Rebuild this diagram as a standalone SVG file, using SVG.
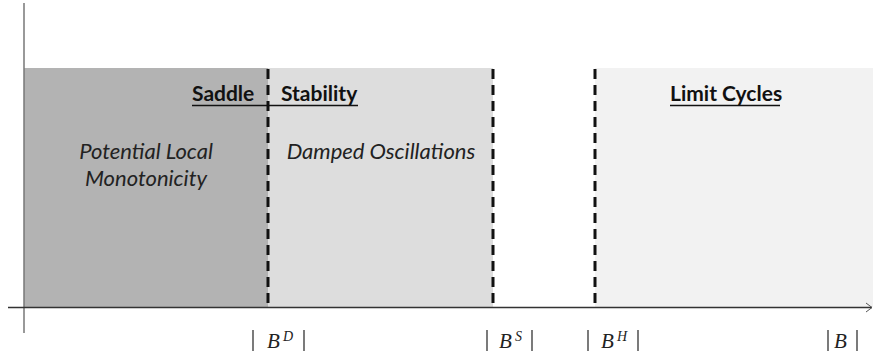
<svg xmlns="http://www.w3.org/2000/svg" width="873" height="353" viewBox="0 0 873 353">
<style>
.hd{font-family:Lato,"Liberation Sans",sans-serif;font-weight:bold;font-size:21px;fill:#111}
.it{font-family:Lato,"Liberation Sans",sans-serif;font-style:italic;font-size:22px;fill:#222}
.mi{font-family:"Liberation Serif",serif;font-style:italic;font-size:21px;fill:#222}
.ms{font-family:"Liberation Serif",serif;font-style:italic;font-size:14px;fill:#222}
.bar{stroke:#333;stroke-width:1.3}
.dash{stroke:#111;stroke-width:3;stroke-dasharray:10 6;fill:none}
.ul{stroke:#111;stroke-width:1.6}
</style>
<g id="regions">
<rect id="saddle" x="24" y="68" width="244" height="239" fill="#b3b3b3"/>
<rect id="stability" x="268" y="68" width="225" height="239" fill="#dddddd"/>
<rect id="limit" x="595" y="68" width="278" height="239" fill="#f2f2f2"/>
</g>
<g id="axes">
<line x1="24" y1="3" x2="24" y2="333" stroke="#777" stroke-width="1.5"/>
<line x1="8" y1="307.5" x2="872" y2="307.5" stroke="#333" stroke-width="1.5"/>
<polyline points="866,303 872,307.5 866,312" fill="none" stroke="#555" stroke-width="1"/>
</g>
<g id="boundaries">
<line class="dash" x1="268" y1="69" x2="268" y2="307"/>
<line class="dash" x1="493" y1="69" x2="493" y2="307"/>
<line class="dash" x1="595" y1="69" x2="595" y2="307"/>
</g>
<g id="labels">
<text class="hd" x="192" y="101">Saddle</text>
<text class="hd" x="281" y="101">Stability</text>
<line class="ul" x1="192" y1="105.5" x2="358" y2="105.5"/>
<text class="hd" x="670" y="101">Limit Cycles</text>
<line class="ul" x1="670" y1="105.5" x2="780" y2="105.5"/>
<text class="it" x="146" y="159" text-anchor="middle">Potential Local</text>
<text class="it" x="146" y="186" text-anchor="middle">Monotonicity</text>
<text class="it" x="381" y="159" text-anchor="middle">Damped Oscillations</text>
</g>
<g id="ticks">
<line class="bar" x1="253" y1="330" x2="253" y2="351"/><text class="mi" x="267" y="348">B</text><text class="ms" x="283" y="341">D</text><line class="bar" x1="304" y1="330" x2="304" y2="351"/>
<line class="bar" x1="487" y1="330" x2="487" y2="351"/><text class="mi" x="499" y="348">B</text><text class="ms" x="515" y="341">S</text><line class="bar" x1="532" y1="330" x2="532" y2="351"/>
<line class="bar" x1="588" y1="330" x2="588" y2="351"/><text class="mi" x="601" y="348">B</text><text class="ms" x="617" y="341">H</text><line class="bar" x1="638" y1="330" x2="638" y2="351"/>
<line class="bar" x1="828" y1="330" x2="828" y2="351"/><text class="mi" x="834" y="348">B</text><line class="bar" x1="857" y1="330" x2="857" y2="351"/>
</g>
</svg>
